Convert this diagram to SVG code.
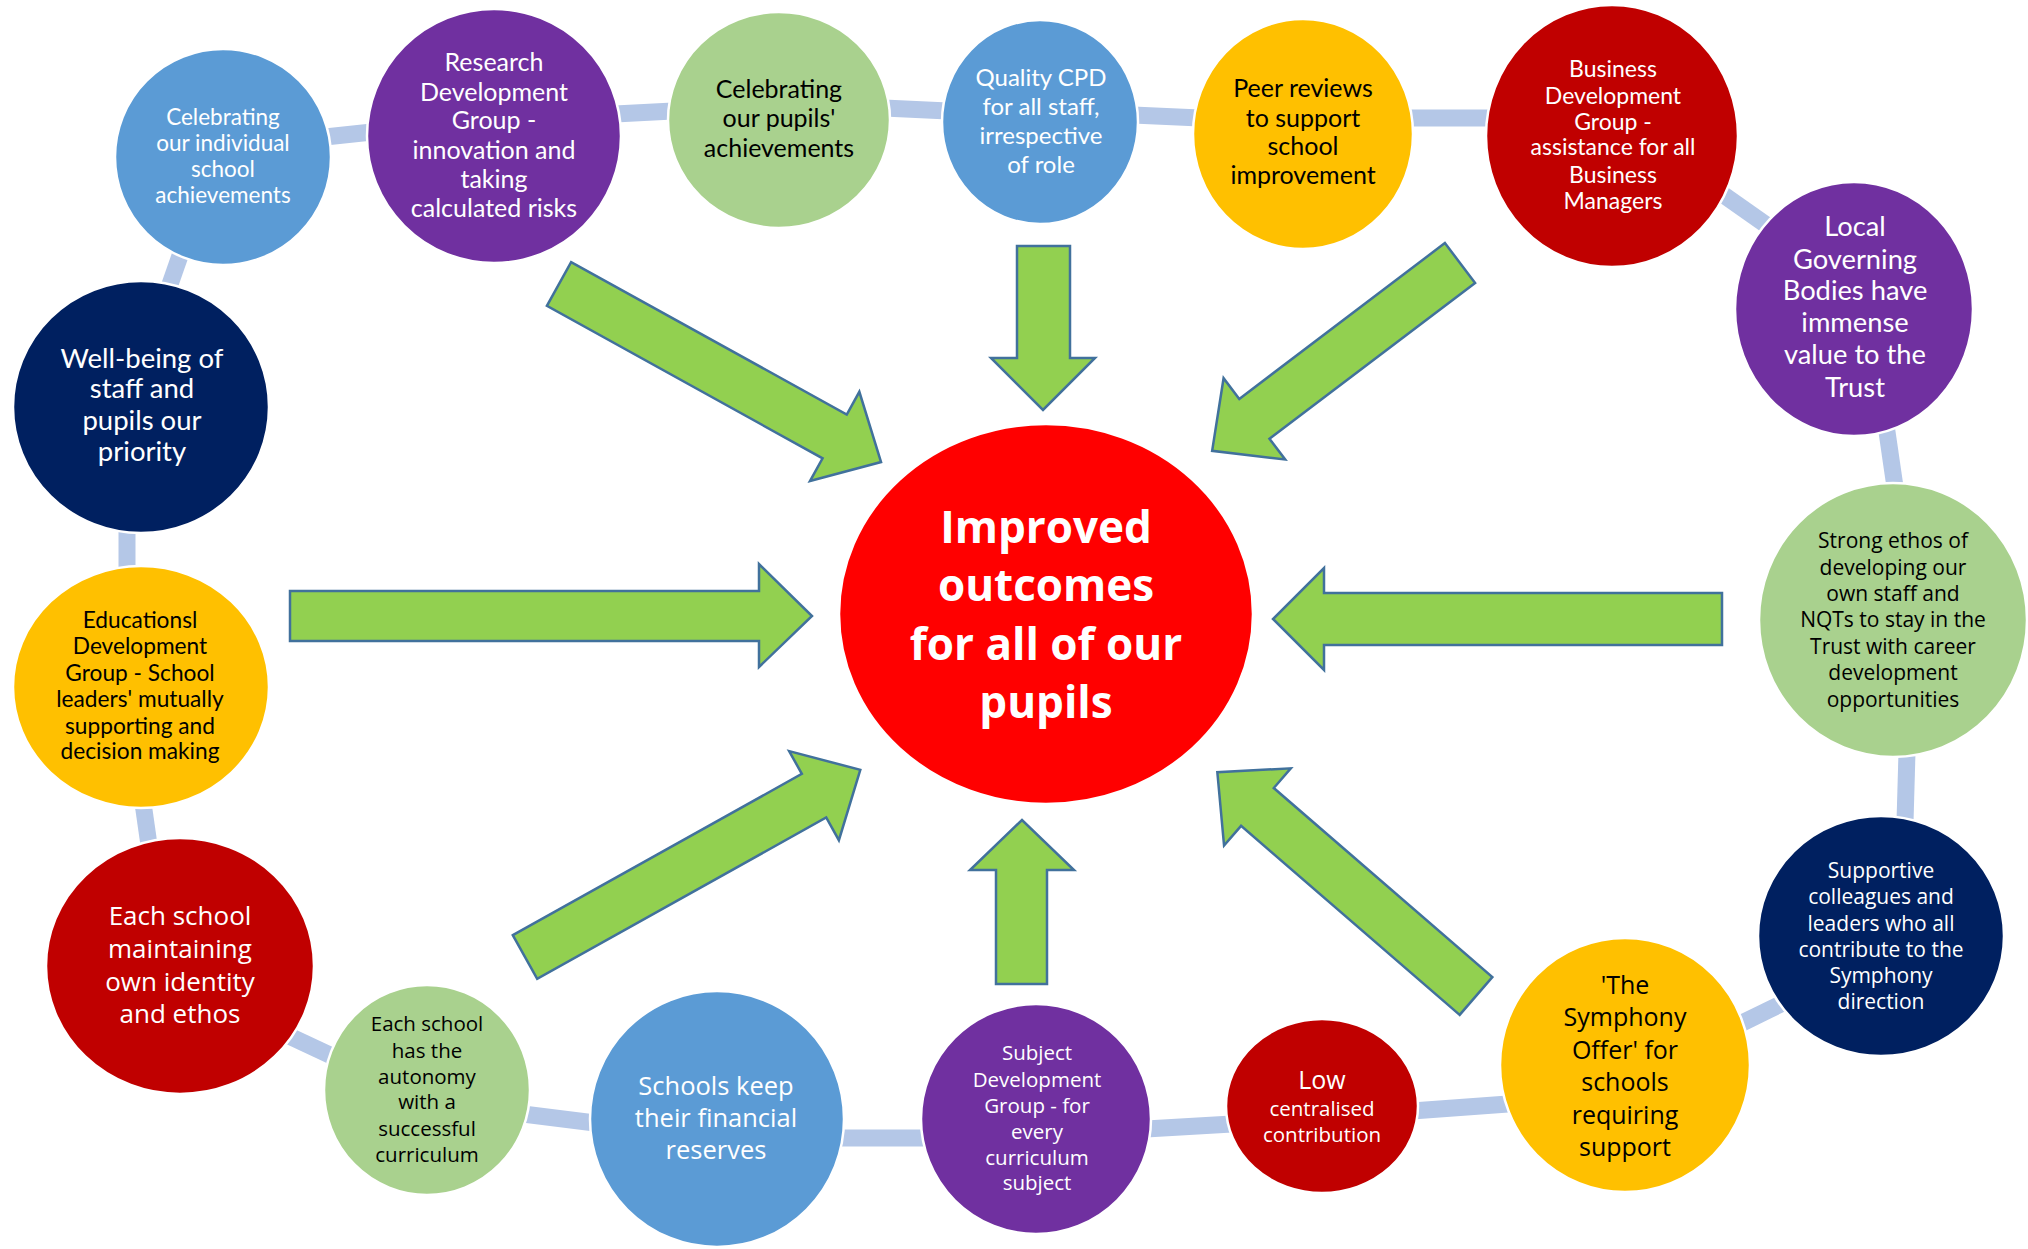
<svg xmlns="http://www.w3.org/2000/svg" width="2028" height="1249" viewBox="0 0 2028 1249">
<style>
.bg{fill:#ffffff}
.link{stroke:#B4C7E7;stroke-width:17;fill:none}
.node ellipse{stroke:#ffffff;stroke-width:2.5}
.blue{fill:#5B9BD5}.purple{fill:#7030A0}.green{fill:#A9D18E}.gold{fill:#FFC000}.dred{fill:#C00000}.navy{fill:#002060}.red{fill:#FF0000}
.arrow{fill:#92D050;stroke:#41719C;stroke-width:2.5;stroke-linejoin:miter}
.cal{font-family:Lato,"Liberation Sans",sans-serif;text-anchor:middle}
.seg{font-family:"Open Sans","Liberation Sans",sans-serif;text-anchor:middle}
.w{fill:#ffffff}.k{fill:#000000}
</style>
<rect class="bg" x="0" y="0" width="2028" height="1249"/>
<g id="connectors">
<g id="loop">
<line class="link" x1="325" y1="137" x2="372" y2="132"/>
<line class="link" x1="615" y1="114" x2="673" y2="111"/>
<line class="link" x1="884" y1="108" x2="948" y2="111"/>
<line class="link" x1="1133" y1="115" x2="1200" y2="118"/>
<line class="link" x1="1408" y1="118" x2="1492" y2="118"/>
<line class="link" x1="1718" y1="191" x2="1772" y2="229"/>
<line class="link" x1="1886" y1="425" x2="1895" y2="487"/>
<line class="link" x1="1907" y1="752" x2="1905" y2="822"/>
<line class="link" x1="1740" y1="1024" x2="1787" y2="1001"/>
<line class="link" x1="1412" y1="1111" x2="1508" y2="1104"/>
<line class="link" x1="1146" y1="1129" x2="1232" y2="1124"/>
<line class="link" x1="838" y1="1138" x2="927" y2="1138"/>
<line class="link" x1="523" y1="1114" x2="595" y2="1123"/>
<line class="link" x1="287" y1="1035" x2="334" y2="1057"/>
<line class="link" x1="143" y1="803" x2="149" y2="845"/>
<line class="link" x1="127" y1="528" x2="127" y2="570"/>
<line class="link" x1="168" y1="290" x2="182" y2="250"/>
</g>
</g>
<g id="n1" class="node"><ellipse class="blue" cx="223" cy="157" rx="108" ry="108"/>
<text class="cal w" font-size="22.5"><tspan x="223" y="125">Celebrating</tspan><tspan x="223" y="151">our individual</tspan><tspan x="223" y="177">school</tspan><tspan x="223" y="203">achievements</tspan></text></g>
<g id="n2" class="node"><ellipse class="purple" cx="494" cy="136" rx="127" ry="127"/>
<text class="cal w" font-size="25"><tspan x="494" y="71">Research</tspan><tspan x="494" y="101">Development</tspan><tspan x="494" y="129">Group -</tspan><tspan x="494" y="159">innovation and</tspan><tspan x="494" y="188">taking</tspan><tspan x="494" y="217">calculated risks</tspan></text></g>
<g id="n3" class="node"><ellipse class="navy" cx="141" cy="407" rx="128" ry="126"/>
<text class="cal w" font-size="27.5"><tspan x="142" y="368">Well-being of</tspan><tspan x="142" y="398">staff and</tspan><tspan x="142" y="430">pupils our</tspan><tspan x="142" y="461">priority</tspan></text></g>
<g id="n4" class="node"><ellipse class="green" cx="779" cy="120" rx="111" ry="108"/>
<text class="cal k" font-size="25"><tspan x="779" y="98">Celebrating</tspan><tspan x="779" y="127">our pupils'</tspan><tspan x="779" y="157">achievements</tspan></text></g>
<g id="n5" class="node"><ellipse class="blue" cx="1040" cy="122" rx="98" ry="102"/>
<text class="cal w" font-size="24"><tspan x="1041" y="86">Quality CPD</tspan><tspan x="1041" y="115">for all staff,</tspan><tspan x="1041" y="144">irrespective</tspan><tspan x="1041" y="173">of role</tspan></text></g>
<g id="n6" class="node"><ellipse class="gold" cx="1303" cy="134" rx="110" ry="115"/>
<text class="cal k" font-size="25"><tspan x="1303" y="97">Peer reviews</tspan><tspan x="1303" y="127">to support</tspan><tspan x="1303" y="155">school</tspan><tspan x="1303" y="184">improvement</tspan></text></g>
<g id="n7" class="node"><ellipse class="dred" cx="1612" cy="136" rx="126" ry="131"/>
<text class="cal w" font-size="23"><tspan x="1613" y="77">Business</tspan><tspan x="1613" y="104">Development</tspan><tspan x="1613" y="130">Group -</tspan><tspan x="1613" y="155">assistance for all</tspan><tspan x="1613" y="183">Business</tspan><tspan x="1613" y="209">Managers</tspan></text></g>
<g id="n8" class="node"><ellipse class="purple" cx="1854" cy="309" rx="119" ry="127"/>
<text class="cal w" font-size="27.3"><tspan x="1855" y="236">Local</tspan><tspan x="1855" y="269">Governing</tspan><tspan x="1855" y="300">Bodies have</tspan><tspan x="1855" y="332">immense</tspan><tspan x="1855" y="364">value to the</tspan><tspan x="1855" y="397">Trust</tspan></text></g>
<g id="n9" class="node"><ellipse class="green" cx="1893" cy="620" rx="134" ry="137"/>
<text class="seg k" font-size="21"><tspan x="1893" y="548">Strong ethos of</tspan><tspan x="1893" y="575">developing our</tspan><tspan x="1893" y="601">own staff and</tspan><tspan x="1893" y="627">NQTs to stay in the</tspan><tspan x="1893" y="654">Trust with career</tspan><tspan x="1893" y="680">development</tspan><tspan x="1893" y="707">opportunities</tspan></text></g>
<g id="n10" class="node"><ellipse class="navy" cx="1881" cy="936" rx="123" ry="120"/>
<text class="seg w" font-size="21"><tspan x="1881" y="878">Supportive</tspan><tspan x="1881" y="904">colleagues and</tspan><tspan x="1881" y="931">leaders who all</tspan><tspan x="1881" y="957">contribute to the</tspan><tspan x="1881" y="983">Symphony</tspan><tspan x="1881" y="1009">direction</tspan></text></g>
<g id="n11" class="node"><ellipse class="gold" cx="1625" cy="1065" rx="125" ry="127"/>
<text class="seg k" font-size="25"><tspan x="1625" y="994">'The</tspan><tspan x="1625" y="1026">Symphony</tspan><tspan x="1625" y="1059">Offer' for</tspan><tspan x="1625" y="1091">schools</tspan><tspan x="1625" y="1124">requiring</tspan><tspan x="1625" y="1156">support</tspan></text></g>
<g id="n12" class="node"><ellipse class="dred" cx="1322" cy="1106" rx="96" ry="87"/>
<text class="seg w"><tspan x="1322" y="1089" font-size="25">Low</tspan><tspan x="1322" y="1116" font-size="20.5">centralised</tspan><tspan x="1322" y="1142" font-size="20.5">contribution</tspan></text></g>
<g id="n13" class="node"><ellipse class="purple" cx="1036" cy="1119" rx="115" ry="115"/>
<text class="seg w" font-size="20.5"><tspan x="1037" y="1060">Subject</tspan><tspan x="1037" y="1087">Development</tspan><tspan x="1037" y="1113">Group - for</tspan><tspan x="1037" y="1139">every</tspan><tspan x="1037" y="1165">curriculum</tspan><tspan x="1037" y="1190">subject</tspan></text></g>
<g id="n14" class="node"><ellipse class="blue" cx="717" cy="1119" rx="127" ry="128"/>
<text class="seg w" font-size="25.5"><tspan x="716" y="1095">Schools keep</tspan><tspan x="716" y="1127">their financial</tspan><tspan x="716" y="1159">reserves</tspan></text></g>
<g id="n15" class="node"><ellipse class="green" cx="427" cy="1090" rx="103" ry="105"/>
<text class="seg k" font-size="20.5"><tspan x="427" y="1031">Each school</tspan><tspan x="427" y="1058">has the</tspan><tspan x="427" y="1084">autonomy</tspan><tspan x="427" y="1109">with a</tspan><tspan x="427" y="1136">successful</tspan><tspan x="427" y="1162">curriculum</tspan></text></g>
<g id="n16" class="node"><ellipse class="dred" cx="180" cy="966" rx="134" ry="128"/>
<text class="seg w" font-size="26"><tspan x="180" y="925">Each school</tspan><tspan x="180" y="958">maintaining</tspan><tspan x="180" y="991">own identity</tspan><tspan x="180" y="1023">and ethos</tspan></text></g>
<g id="n17" class="node"><ellipse class="gold" cx="141" cy="687" rx="128" ry="121"/>
<text class="cal k" font-size="22.7"><tspan x="140" y="628">Educationsl</tspan><tspan x="140" y="654">Development</tspan><tspan x="140" y="681">Group - School</tspan><tspan x="140" y="707">leaders' mutually</tspan><tspan x="140" y="734">supporting and</tspan><tspan x="140" y="759">decision making</tspan></text></g>
<g id="center" class="node"><ellipse class="red" cx="1046" cy="614" rx="207" ry="190"/>
<text class="seg w" font-size="44" font-weight="bold"><tspan x="1046" y="543">Improved</tspan><tspan x="1046" y="601">outcomes</tspan><tspan x="1046" y="660">for all of our</tspan><tspan x="1046" y="718">pupils</tspan></text></g>
<g id="arrows">
<polygon class="arrow" points="0,-25 315,-25 315,-51 368,0 315,51 315,25 0,25" transform="translate(559 284) rotate(28.94)"/>
<polygon class="arrow" points="0,-25 258,-25 258,-51 311,0 258,51 258,25 0,25" transform="translate(1460 263) rotate(142.84)"/>
<polygon class="arrow" points="0,-25 331,-25 331,-51 384,0 331,51 331,25 0,25" transform="translate(525 957) rotate(-29.17)"/>
<polygon class="arrow" points="0,-25 289,-25 289,-51 342,0 289,51 289,25 0,25" transform="translate(1476 996) rotate(-139.14)"/>
<polygon class="arrow" points="1017,246 1070,246 1070,358 1095,358 1043,410 991,358 1017,358"/>
<polygon class="arrow" points="996,984 1047,984 1047,870 1074,870 1022,820 970,870 996,870"/>
<polygon class="arrow" points="290,591 759,591 759,564 812,616 759,667 759,641 290,641"/>
<polygon class="arrow" points="1722,593 1324,593 1324,568 1273,619 1324,670 1324,645 1722,645"/>
</g>
</svg>
